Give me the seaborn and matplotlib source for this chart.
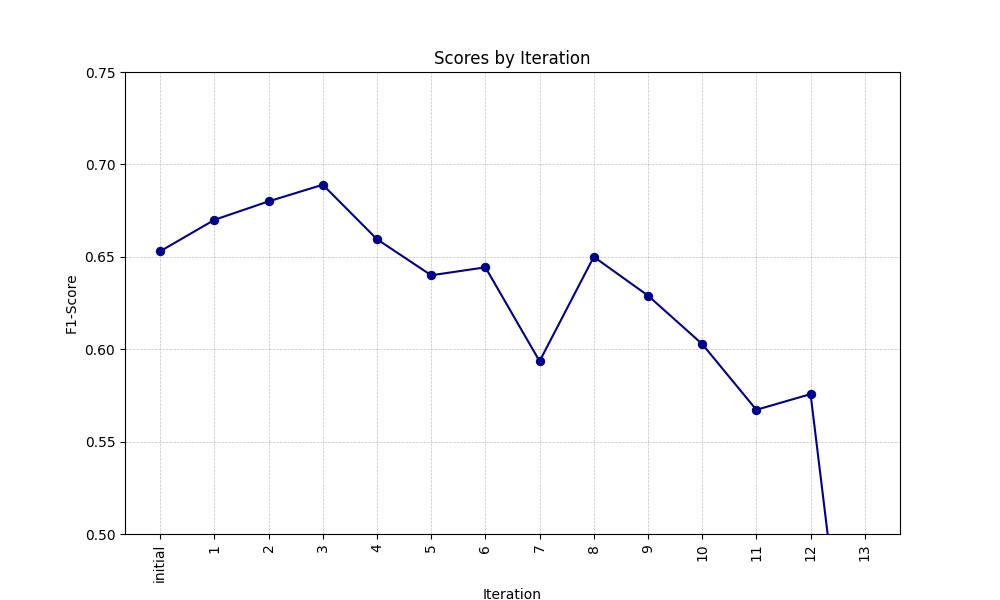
import matplotlib
matplotlib.use("Agg")
import matplotlib.pyplot as plt
import seaborn as sns
import pandas as pd

iterations = ["initial", "1", "2", "3", "4", "5", "6", "7", "8", "9", "10", "11", "12", "13"]
f1_scores = [0.653, 0.670, 0.680, 0.689, 0.6595, 0.640, 0.6443, 0.5935, 0.650, 0.629,
             0.6028, 0.5672, 0.5757, 0.335]

df = pd.DataFrame({"Iteration": iterations, "F1-Score": f1_scores})

fig, ax = plt.subplots(figsize=(10, 6), dpi=100)
sns.lineplot(data=df, x="Iteration", y="F1-Score", sort=False, ax=ax,
             color="darkblue", marker="o", markersize=6,
             markeredgecolor="darkblue", linewidth=1.5)

ax.set_ylim(0.5, 0.75)
ax.set_title("Scores by Iteration")
ax.set_xlabel("Iteration")
ax.set_ylabel("F1-Score")
ax.tick_params(axis="x", rotation=90)
ax.grid(True, linestyle="--", linewidth=0.5, color="#b0b0b0", alpha=0.8)

fig.savefig("out.png", dpi=100)
